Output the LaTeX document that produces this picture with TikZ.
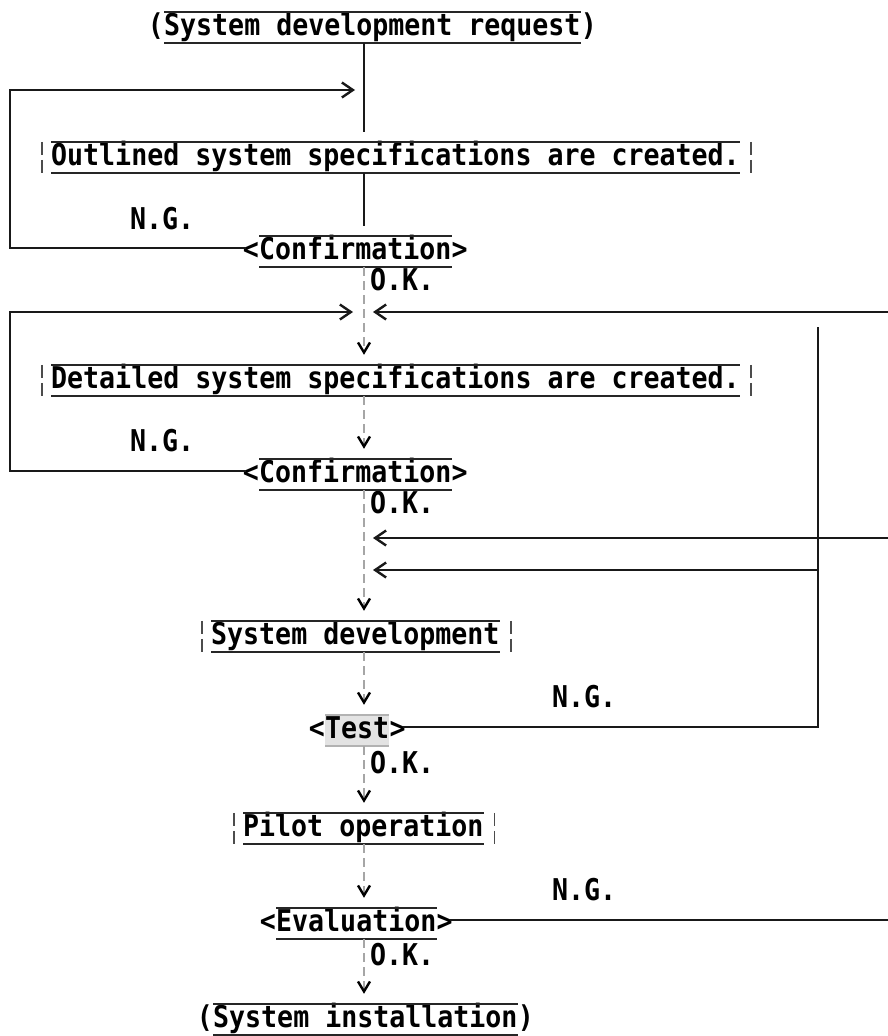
\documentclass[tikz,border=0pt]{standalone}
\usepackage{fontspec}
\setmonofont[FakeStretch=0.8865]{DejaVu Sans Mono}
\usetikzlibrary{arrows.meta,calc}
\newcommand\myou[1]{\draw[ol] (#1.north west) -- (#1.north east); \draw[ol] (#1.south west) -- (#1.south east);}
\newcommand\mybx[1]{\draw[bar] ([xshift=-9pt]#1.north west) -- ([xshift=-9pt]#1.south west); \draw[bar] ([xshift=11pt]#1.north east) -- ([xshift=11pt]#1.south east);}
\begin{document}
\begin{tikzpicture}[x=1pt,y=-1pt,
  tw/.style={font=\ttfamily\bfseries\fontsize{30}{34}\selectfont, inner sep=0pt, text height=23pt, text depth=8pt, anchor=base west},
  ln/.style={line width=2.8pt, draw=black!90},
  ol/.style={line width=2.5pt, draw=black!85},
  dsh/.style={line width=2.2pt, draw=gray!70, dash pattern=on 9pt off 5pt},
  bar/.style={line width=1.8pt, draw=black!70, dash pattern=on 13pt off 5pt on 40pt},
  vtip/.style={-{Straight Barb[length=10pt,width=12pt,line width=2.4pt,color=black]}, shorten >=10pt},
  htip/.style={-{Straight Barb[length=11pt,width=15pt,line width=2.4pt]}},
]
\path[use as bounding box, fill=white] (0,0) rectangle (888,1036);
\coordinate (ax) at (364,0);
\coordinate (L) at (10,0);
\coordinate (R) at (888,0);
\coordinate (rv) at (818,327);

% nodes
\node[tw] (req) at (164,35) {System development request};
\node[tw,anchor=base east] (reql) at (req.base west) {(};
\node[tw] (reqr) at (req.base east) {)};

\node[tw] (out) at (51,165) {Outlined system specifications are created.};

\node[tw] (ng1) at (130,229) {N.G.};
\node[tw] (conf1) at (259,259) {Confirmation};
\node[tw,anchor=base east] (conf1l) at (conf1.base west) {<};
\node[tw] (conf1r) at (conf1.base east) {>};
\node[tw] (ok1) at (370,290) {O.K.};

\node[tw] (det) at (51,388) {Detailed system specifications are created.};

\node[tw] (ng2) at (130,451) {N.G.};
\node[tw] (conf2) at (259,482) {Confirmation};
\node[tw,anchor=base east] (conf2l) at (conf2.base west) {<};
\node[tw] (conf2r) at (conf2.base east) {>};
\node[tw] (ok2) at (370,513) {O.K.};

\node[tw] (dev) at (211,644) {System development};

\node[tw] (ng3) at (552,707) {N.G.};
\node[tw, fill=gray!22] (test) at (325,738) {Test};
\node[tw,anchor=base east] (testl) at (test.base west) {<};
\node[tw] (testr) at (test.base east) {>};
\node[tw] (ok3) at (370,773) {O.K.};

\node[tw] (pilot) at (243,836) {Pilot operation};

\node[tw] (ng4) at (552,900) {N.G.};
\node[tw] (eval) at (276,931) {Evaluation};
\node[tw,anchor=base east] (evall) at (eval.base west) {<};
\node[tw] (evalr) at (eval.base east) {>};
\node[tw] (ok4) at (370,965) {O.K.};

\node[tw] (inst) at (213,1027) {System installation};
\node[tw,anchor=base east] (instl) at (inst.base west) {(};
\node[tw] (instr) at (inst.base east) {)};

% box outlines
\myou{req}
\myou{out} \mybx{out}
\myou{conf1}
\myou{det} \mybx{det}
\myou{conf2}
\myou{dev} \mybx{dev}
\draw[ol, draw=gray!60] (test.north west) -- (test.north east); \draw[ol, draw=gray!60] (test.south west) -- (test.south east);
\myou{pilot} \mybx{pilot}
\myou{eval}
\myou{inst}

% main flow
\draw[ln, shorten >=10pt] (req.south -| ax) -- (out.north -| ax);
\draw[ln, shorten >=10pt] (out.south -| ax) -- (conf1.north -| ax);
\draw[dsh, vtip] (conf1.south -| ax) -- (det.north -| ax);
\draw[dsh, vtip] (det.south -| ax) -- (conf2.north -| ax);
\draw[dsh, vtip] (conf2.south -| ax) -- (dev.north -| ax);
\draw[dsh, vtip] (dev.south -| ax) -- (test.north -| ax);
\draw[dsh, vtip] (test.south -| ax) -- (pilot.north -| ax);
\draw[dsh, vtip] (pilot.south -| ax) -- (eval.north -| ax);
\draw[dsh, vtip] (eval.south -| ax) -- (inst.north -| ax);

% left loops
\coordinate (j1) at (355,90);
\coordinate (c1m) at ($(conf1l.base west)+(3,-11)$);
\draw[ln, htip] (c1m) -- (c1m -| L) -- (j1 -| L) -- (j1);
\coordinate (j2) at (353,312);
\coordinate (c2m) at ($(conf2l.base west)+(3,-11)$);
\draw[ln, htip] (c2m) -- (c2m -| L) -- (j2 -| L) -- (j2);

% right side returns
\coordinate (k1) at (373,312);
\draw[ln, htip] (k1 -| R) -- (k1);
\coordinate (k2) at (373,538);
\draw[ln, htip] (k2 -| R) -- (k2);
\coordinate (k3) at (373,570);
\coordinate (tm) at ($(testr.base east)+(-3,-11)$);
\draw[ln] (tm) -- (tm -| rv) -- (rv);
\draw[ln, htip] (k3 -| rv) -- (k3);
\coordinate (em) at ($(evalr.base east)+(-3,-11)$);
\draw[ln] (em) -- (em -| R);
\end{tikzpicture}
\end{document}
